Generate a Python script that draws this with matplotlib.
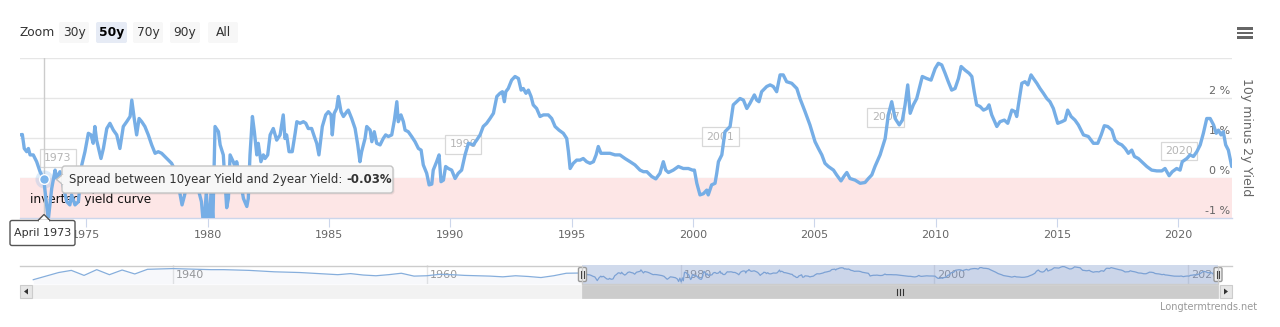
import matplotlib
matplotlib.use('Agg')
import matplotlib.pyplot as plt
from matplotlib.patches import Rectangle, FancyBboxPatch, Polygon
from matplotlib.transforms import offset_copy

plt.rcParams['font.family'] = ['DejaVu Sans']

# ---------------- data ----------------
years = [1972.27, 1972.37, 1972.45, 1972.55, 1972.62, 1972.69, 1972.82, 1972.96, 1973.10, 1973.25,
         1973.44, 1973.58, 1973.72, 1973.79, 1973.92, 1974.20, 1974.33, 1974.40, 1974.54, 1974.68,
         1974.82, 1974.95, 1975.09, 1975.20, 1975.29, 1975.36, 1975.43, 1975.61, 1975.71, 1975.85,
         1975.98, 1976.12, 1976.26, 1976.39, 1976.53, 1976.67, 1976.81, 1976.88, 1976.98, 1977.08,
         1977.18, 1977.29, 1977.42, 1977.56, 1977.70, 1977.84, 1977.97, 1978.11, 1978.32, 1978.52,
         1978.70, 1978.85, 1978.95, 1979.05, 1979.20, 1979.40, 1979.60, 1979.75, 1979.85, 1979.95,
         1980.05, 1980.15, 1980.22, 1980.31, 1980.45, 1980.52, 1980.65, 1980.79, 1980.86, 1980.93,
         1981.06, 1981.16, 1981.20, 1981.34, 1981.48, 1981.62, 1981.68, 1981.75, 1981.85, 1981.93,
         1982.03, 1982.09, 1982.20, 1982.30, 1982.37, 1982.48, 1982.58, 1982.71, 1982.85, 1982.99,
         1983.12, 1983.19, 1983.26, 1983.36, 1983.49, 1983.61, 1983.68, 1983.81, 1983.95, 1984.05,
         1984.15, 1984.29, 1984.40, 1984.50, 1984.59, 1984.73, 1984.87, 1984.98, 1985.09, 1985.14,
         1985.22, 1985.32, 1985.39, 1985.50, 1985.60, 1985.74, 1985.80, 1985.94, 1986.08, 1986.19,
         1986.28, 1986.35, 1986.49, 1986.56, 1986.70, 1986.77, 1986.87, 1986.97, 1987.11, 1987.24,
         1987.34, 1987.45, 1987.59, 1987.70, 1987.80, 1987.86, 1987.97, 1988.07, 1988.14, 1988.27,
         1988.41, 1988.55, 1988.69, 1988.80, 1988.89, 1989.03, 1989.13, 1989.24, 1989.30, 1989.44,
         1989.54, 1989.62, 1989.72, 1989.81, 1989.92, 1990.06, 1990.20, 1990.33, 1990.47, 1990.61,
         1990.75, 1990.95, 1991.09, 1991.23, 1991.36, 1991.50, 1991.64, 1991.78, 1991.92, 1992.05,
         1992.15, 1992.23, 1992.29, 1992.39, 1992.53, 1992.67, 1992.81, 1992.92, 1993.01, 1993.12,
         1993.22, 1993.33, 1993.42, 1993.56, 1993.70, 1993.84, 1994.04, 1994.18, 1994.32, 1994.48,
         1994.66, 1994.80, 1994.87, 1994.94, 1995.07, 1995.21, 1995.35, 1995.48, 1995.62, 1995.76,
         1995.90, 1996.01, 1996.10, 1996.21, 1996.38, 1996.58, 1996.79, 1996.99, 1997.20, 1997.41,
         1997.61, 1997.82, 1997.96, 1998.10, 1998.30, 1998.47, 1998.64, 1998.78, 1998.88, 1998.99,
         1999.19, 1999.40, 1999.60, 1999.81, 1999.98, 2000.06, 2000.16, 2000.29, 2000.43, 2000.57,
         2000.63, 2000.77, 2000.91, 2000.98, 2001.05, 2001.19, 2001.32, 2001.53, 2001.66, 2001.80,
         2001.94, 2002.08, 2002.22, 2002.35, 2002.53, 2002.63, 2002.72, 2002.83, 2003.04, 2003.18,
         2003.31, 2003.45, 2003.59, 2003.72, 2003.86, 2004.07, 2004.28, 2004.41, 2004.62, 2004.82,
         2005.03, 2005.17, 2005.31, 2005.44, 2005.58, 2005.79, 2005.92, 2006.10, 2006.24, 2006.34,
         2006.47, 2006.68, 2006.89, 2007.09, 2007.23, 2007.37, 2007.50, 2007.71, 2007.92, 2008.05,
         2008.19, 2008.33, 2008.50, 2008.63, 2008.74, 2008.85, 2008.95, 2009.08, 2009.22, 2009.36,
         2009.45, 2009.63, 2009.81, 2009.98, 2010.11, 2010.25, 2010.39, 2010.52, 2010.66, 2010.80,
         2010.94, 2011.05, 2011.21, 2011.38, 2011.49, 2011.59, 2011.69, 2011.83, 2011.97, 2012.11,
         2012.20, 2012.31, 2012.52, 2012.65, 2012.83, 2012.97, 2013.14, 2013.27, 2013.34, 2013.41,
         2013.55, 2013.68, 2013.80, 2013.93, 2014.03, 2014.17, 2014.30, 2014.44, 2014.58, 2014.71,
         2014.85, 2015.03, 2015.20, 2015.33, 2015.44, 2015.58, 2015.74, 2015.88, 2016.09, 2016.29,
         2016.50, 2016.68, 2016.82, 2016.95, 2017.09, 2017.26, 2017.39, 2017.53, 2017.67, 2017.81,
         2017.94, 2018.08, 2018.19, 2018.35, 2018.49, 2018.70, 2018.90, 2019.11, 2019.32, 2019.45,
         2019.62, 2019.75, 2019.93, 2020.07, 2020.16, 2020.35, 2020.48, 2020.62, 2020.76, 2020.90,
         2021.03, 2021.17, 2021.31, 2021.45, 2021.56, 2021.65, 2021.76, 2021.85, 2021.95, 2022.06,
         2022.20]
spread = [1.07, 1.08, 0.73, 0.65, 0.73, 0.57, 0.57, 0.40, 0.15, -0.03,
          -1.05, -0.27, 0.19, -0.02, 0.15, -0.60, -0.68, -0.43, -0.68, -0.60,
          0.32, 0.65, 1.11, 1.07, 0.86, 1.28, 0.94, 0.48, 0.73, 1.23,
          1.36, 1.19, 1.07, 0.73, 1.28, 1.40, 1.53, 1.94, 1.48, 1.07,
          1.48, 1.40, 1.28, 1.07, 0.82, 0.61, 0.65, 0.61, 0.48, 0.36,
          0.14, -0.35, -0.68, -0.45, 0.00, -0.10, -0.25, -0.60, -1.30, -0.35,
          -1.40, -0.30, -1.10, 1.28, 1.15, 0.82, 0.57, -0.75, -0.52, 0.57,
          0.40, 0.23, 0.40, -0.02, -0.52, -0.72, -0.52, 0.57, 1.53, 1.15,
          0.57, 0.86, 0.40, 0.57, 0.48, 0.57, 1.07, 1.23, 0.94, 1.07,
          1.57, 0.98, 1.07, 0.65, 0.65, 1.11, 1.40, 1.36, 1.40, 1.36,
          1.23, 1.23, 1.03, 0.86, 0.57, 1.28, 1.57, 1.65, 1.57, 1.07,
          1.61, 1.73, 2.03, 1.65, 1.53, 1.65, 1.69, 1.48, 1.23, 0.82,
          0.40, 0.65, 0.98, 1.28, 1.19, 0.90, 1.15, 0.86, 0.82, 0.98,
          1.07, 1.03, 1.07, 1.44, 1.90, 1.40, 1.57, 1.40, 1.19, 1.15,
          1.03, 0.90, 0.73, 0.69, 0.32, 0.11, -0.18, -0.16, 0.19, 0.40,
          0.57, -0.10, -0.06, 0.28, 0.23, 0.19, -0.02, 0.11, 0.19, 0.57,
          0.86, 0.82, 0.94, 1.07, 1.28, 1.36, 1.48, 1.61, 2.03, 2.11,
          2.15, 1.90, 2.15, 2.23, 2.44, 2.53, 2.48, 2.19, 2.23, 2.11,
          2.19, 2.03, 1.82, 1.73, 1.53, 1.57, 1.57, 1.48, 1.28, 1.19,
          1.11, 0.98, 0.65, 0.23, 0.36, 0.44, 0.44, 0.48, 0.40, 0.36,
          0.40, 0.57, 0.78, 0.61, 0.61, 0.61, 0.57, 0.57, 0.48, 0.40,
          0.32, 0.19, 0.15, 0.15, 0.03, -0.03, 0.11, 0.40, 0.19, 0.13,
          0.19, 0.28, 0.23, 0.23, 0.19, 0.19, -0.14, -0.43, -0.40, -0.31,
          -0.43, -0.18, -0.14, 0.11, 0.40, 0.57, 1.15, 1.28, 1.82, 1.90,
          1.98, 1.94, 1.73, 1.86, 2.07, 1.94, 1.90, 2.15, 2.28, 2.32,
          2.28, 2.15, 2.57, 2.57, 2.40, 2.36, 2.23, 1.98, 1.65, 1.32,
          0.90, 0.73, 0.57, 0.36, 0.28, 0.19, 0.07, -0.08, 0.05, 0.13,
          -0.02, -0.06, -0.14, -0.12, -0.02, 0.07, 0.28, 0.57, 0.98, 1.57,
          1.90, 1.48, 1.32, 1.44, 1.82, 2.32, 1.61, 1.82, 1.98, 2.32,
          2.53, 2.48, 2.44, 2.73, 2.86, 2.82, 2.61, 2.40, 2.19, 2.23,
          2.48, 2.78, 2.69, 2.61, 2.53, 2.15, 1.82, 1.78, 1.69, 1.73,
          1.82, 1.57, 1.28, 1.40, 1.44, 1.36, 1.69, 1.65, 1.53, 1.82,
          2.36, 2.40, 2.32, 2.57, 2.48, 2.36, 2.23, 2.11, 1.98, 1.90,
          1.73, 1.36, 1.40, 1.44, 1.69, 1.53, 1.44, 1.32, 1.07, 1.03,
          0.86, 0.86, 1.07, 1.30, 1.28, 1.19, 0.94, 0.86, 0.82, 0.73,
          0.61, 0.69, 0.53, 0.48, 0.40, 0.28, 0.19, 0.17, 0.17, 0.23,
          0.05, 0.15, 0.23, 0.19, 0.40, 0.48, 0.57, 0.53, 0.65, 0.82,
          1.11, 1.48, 1.48, 1.32, 1.11, 1.19, 1.07, 1.15, 0.82, 0.69,
          0.28]

# earlier history shown only in the navigator
early_years = [1929, 1930, 1931, 1932, 1933, 1934, 1935, 1936, 1937, 1938, 1939, 1940, 1941, 1942,
               1943, 1944, 1945, 1946, 1947, 1948, 1949, 1950, 1951, 1952, 1953, 1954, 1955, 1956,
               1957, 1958, 1959, 1960, 1961, 1962, 1963, 1964, 1965, 1966, 1967, 1968, 1969, 1970,
               1971]
early_spread = [-0.8, 0.2, 1.2, 1.8, 0.4, 2.0, 0.6, 1.9, 0.8, 2.1, 2.2, 2.3, 2.2, 2.1,
                2.0, 2.0, 1.9, 1.8, 1.6, 1.4, 1.3, 1.2, 1.0, 0.8, 0.6, 0.9, 0.5, 0.3,
                0.6, 1.0, 0.2, 0.3, 0.7, 0.6, 0.4, 0.3, 0.2, 0.0, 0.3, 0.1, -0.2, 0.3,
                1.0]

x_ticks = [1975, 1980, 1985, 1990, 1995, 2000, 2005, 2010, 2015, 2020]
y_ticks = [-1, 0, 1, 2]
y_grid = [-1, 0, 1, 2, 3]
nav_ticks = [1940, 1960, 1980, 2000, 2020]

flag_labels = ['1973', '1990', '2001', '2007', '2020']
flag_years = [1973.1, 1989.8, 2000.4, 2007.2, 2019.3]
flag_levels = [0.27, 0.61, 0.80, 1.28, 0.44]

zoom_labels = ['30y', '50y', '70y', '90y', 'All']
zoom_selected = '50y'

hover_year = 1973.25
hover_value = -0.03
hover_label = 'April 1973'
series_name = 'Spread between 10year Yield and 2year Yield'

view_start, view_end = 1972.274, 2022.21
nav_start, nav_end = 1928.9, 2022.35

# ---------------- figure ----------------
W, H = 1280, 327
fig = plt.figure(figsize=(W / 100, H / 100), dpi=100)


def frac_box(x0, y0, x1, y1):
    return [x0 / W, 1 - y1 / H, (x1 - x0) / W, (y1 - y0) / H]


LINE = '#76aee6'
TXT = '#666666'

# main plot
ax = fig.add_axes(frac_box(20, 57.7, 1232, 217.7))
ax.set_xlim(view_start, view_end)
ax.set_ylim(-1, 3)
ax.set_facecolor('none')
for v in y_grid:
    ax.axhline(v, color='#e6e6e6', lw=1, zorder=0.4)
ax.axhspan(-1, 0, color='#fde6e6', lw=0, zorder=0.5)
ax.plot(years, spread, color=LINE, lw=2.4, zorder=3, solid_joinstyle='round',
        solid_capstyle='round')
for s in ['top', 'left', 'right']:
    ax.spines[s].set_visible(False)
ax.spines['bottom'].set_color('#ccd6eb')
ax.spines['bottom'].set_linewidth(1)
ax.set_xticks(x_ticks)
ax.set_xticklabels([str(t) for t in x_ticks])
ax.tick_params(axis='x', length=6.5, width=0.8, color='#ccd6eb', labelcolor=TXT,
               labelsize=8, pad=2)
ax.set_yticks([])

ylab_tr = offset_copy(ax.get_yaxis_transform(), fig, x=-2, y=2, units='dots')
for v in y_ticks:
    ax.text(1.0, v, f'{v} %', transform=ylab_tr, ha='right', va='bottom',
            color=TXT, fontsize=8, zorder=2)
fig.text(1246 / W, 1 - 137 / H, '10y minus 2y Yield', rotation=270, ha='center',
         va='center', color=TXT, fontsize=9)

# plot band label
band_tr = offset_copy(ax.get_yaxis_transform(), fig, x=10, y=-2, units='dots')
ax.text(0, -0.5, 'inverted yield curve', transform=band_tr, ha='left', va='center',
        color='#111111', fontsize=8.7, zorder=2)

# flags
flag_tr = offset_copy(ax.transData, fig, x=4, y=4, units='dots')
for lab, fyr, flv in zip(flag_labels, flag_years, flag_levels):
    ax.text(fyr, flv, lab, transform=flag_tr, ha='left', va='bottom', color='#b5b5b5',
            fontsize=7.8, zorder=2.2,
            bbox=dict(boxstyle='square,pad=0.4', fc=(1, 1, 1, 0.85), ec='#d8d8d8', lw=0.9))

# crosshair and hovered point
ax.axvline(hover_year, color='#cccccc', lw=1, zorder=2.5)
ax.plot([hover_year], [hover_value], 'o', ms=13, color='#7cb5ec', alpha=0.25, zorder=4,
        mew=0)
ax.plot([hover_year], [hover_value], 'o', ms=7, mfc='#7cb5ec', mec='white', mew=1,
        zorder=4.1)

# navigator
nav = fig.add_axes(frac_box(32, 265, 1218, 284))
nav.set_xlim(nav_start, nav_end)
nav.set_ylim(-2.0, 3.3)
nav.axis('off')
nav_x = early_years + years
nav_y = early_spread + spread
for t in nav_ticks:
    nav.axvline(t, color='#e6e6e6', lw=1, zorder=0.5)
nav_lab_tr = offset_copy(nav.get_xaxis_transform(), fig, x=3, y=0, units='dots')
for t in nav_ticks:
    nav.text(t, 0.45, str(t), transform=nav_lab_tr, ha='left', va='center',
             color='#999999', fontsize=8, zorder=1)
nav.fill_between(nav_x, nav_y, -2.0, color='#335cad', alpha=0.04, lw=0, zorder=1.5)
nav.plot(nav_x, nav_y, color='#86aedc', lw=0.9, zorder=2)
nav.axvspan(view_start, nav_end, color='#6685c2', alpha=0.3, lw=0, zorder=2.5)

# overlay in pixel coordinates for chart chrome
ov = fig.add_axes([0, 0, 1, 1], zorder=10)
ov.set_xlim(0, W)
ov.set_ylim(H, 0)
ov.axis('off')


def nav_px(yr):
    return 32 + (yr - nav_start) / (nav_end - nav_start) * (1218 - 32)


sel_l, sel_r = nav_px(view_start), nav_px(nav_end)

# navigator outline and handles
ov.plot([20, sel_l, sel_l, sel_r, sel_r, 1232], [265.5, 265.5, 284, 284, 265.5, 265.5],
        color='#cccccc', lw=1)
for hx in (sel_l, sel_r):
    ov.add_patch(FancyBboxPatch((hx - 4, 267.5), 8, 14,
                                boxstyle='round,pad=0,rounding_size=1.5',
                                fc='#f2f2f2', ec='#999999', lw=1))
    for dx in (-1.3, 1.3):
        ov.plot([hx + dx, hx + dx], [271, 278], color='#444444', lw=0.8)

# scrollbar
ov.add_patch(Rectangle((20, 285), 1212, 13, fc='#f2f2f2', ec='#f2f2f2', lw=0.5))
ov.add_patch(Rectangle((sel_l, 285), sel_r - sel_l, 13, fc='#cccccc', ec='#cccccc', lw=0.5))
cx = (sel_l + sel_r) / 2
for dx in (-3, 0, 3):
    ov.plot([cx + dx, cx + dx], [288.5, 294.5], color='#333333', lw=0.8)
ov.add_patch(Rectangle((20, 285), 12, 13, fc='#e6e6e6', ec='#cccccc', lw=0.8))
ov.add_patch(Polygon([(24, 291.5), (28, 288.5), (28, 294.5)], closed=True, fc='#333333',
                     ec='none'))
ov.add_patch(Rectangle((1220, 285), 12, 13, fc='#e6e6e6', ec='#cccccc', lw=0.8))
ov.add_patch(Polygon([(1228, 291.5), (1224, 288.5), (1224, 294.5)], closed=True,
                     fc='#333333', ec='none'))

# credits
ov.text(1257, 307, 'Longtermtrends.net', ha='right', va='center', color='#999999',
        fontsize=7)

# range selector
ov.text(20, 32.5, 'Zoom', ha='left', va='center', color='#333333', fontsize=8.8)
btn_x = [59, 96, 133, 170, 208]
btn_w = [30, 31, 30, 30, 30]
for lab, bx, bw in zip(zoom_labels, btn_x, btn_w):
    sel = lab == zoom_selected
    ov.add_patch(FancyBboxPatch((bx, 22), bw, 21, boxstyle='round,pad=0,rounding_size=2',
                                fc='#e6ebf5' if sel else '#f7f7f7', ec='none'))
    ov.text(bx + bw / 2, 32.5, lab, ha='center', va='center',
            color='#000000' if sel else '#333333', fontsize=8.8,
            fontweight='bold' if sel else 'normal')

# context menu icon
for yy in (28.5, 33, 37.5):
    ov.add_patch(Rectangle((1237, yy - 1.2), 16, 2.4, fc='#666666', ec='none'))

# tooltip
ov.add_patch(FancyBboxPatch((63.5, 167.5), 331, 27, boxstyle='round,pad=0,rounding_size=3',
                            fc=(0, 0, 0, 0.07), ec='none'))
ov.add_patch(FancyBboxPatch((62, 166), 331, 27, boxstyle='round,pad=0,rounding_size=3',
                            fc='#f7f7f7', ec='#c4c4c4', lw=1))
ov.add_patch(Polygon([(62.6, 174.5), (56.5, 179.5), (62.6, 184.5)], closed=True,
                     fc='#f7f7f7', ec='#c4c4c4', lw=1))
ov.add_patch(Rectangle((62.2, 175), 1.5, 9, fc='#f7f7f7', ec='none'))
t1 = ov.text(69, 179.5, series_name + ': ', ha='left', va='center', color='#333333',
             fontsize=8.5)
fig.canvas.draw()
bb = t1.get_window_extent(renderer=fig.canvas.get_renderer())
ov.text(bb.x1, 179.5, f'{hover_value:.2f}%', ha='left', va='center', color='#333333',
        fontsize=8.5, fontweight='bold')

# crosshair label on the x axis
ov.add_patch(FancyBboxPatch((10, 220.5), 65, 25, boxstyle='round,pad=0,rounding_size=2',
                            fc='white', ec='#555555', lw=1))
ov.add_patch(Polygon([(38, 220.5), (44, 214.5), (50, 220.5)], closed=True, fc='white',
                     ec='#555555', lw=1))
ov.add_patch(Rectangle((38.8, 220), 10.4, 1.6, fc='white', ec='none'))
ov.text(42.5, 233, hover_label, ha='center', va='center', color='#333333', fontsize=8)

fig.savefig('out.png', dpi=100)
